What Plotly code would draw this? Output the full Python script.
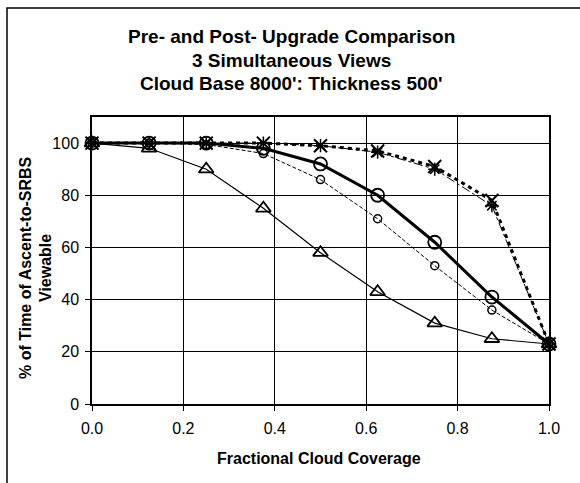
import plotly.graph_objects as go

coverage = [0.0, 0.125, 0.25, 0.375, 0.5, 0.625, 0.75, 0.875, 1.0]
triangle_vals = [100, 98, 90, 75, 58, 43, 31, 25, 23]
small_circle_vals = [100, 100, 99.5, 96, 86, 71, 53, 36, 23]
big_circle_vals = [100, 100, 100, 98, 92, 80, 62, 41, 23]
x_vals = [100, 100, 100, 100, 99, 97, 91, 78, 23]
star_vals = [100, 100, 100, 100, 99, 96.5, 90, 76, 23]

title_lines = ["Pre- and Post- Upgrade Comparison", "3 Simultaneous Views",
               "Cloud Base 8000': Thickness 500'"]
x_title = "Fractional Cloud Coverage"
y_title_lines = ["% of Time of Ascent-to-SRBS", "Viewable"]

W, H = 580, 483
L, R, T, B = 92, 549, 117, 404
pw, ph = R - L, B - T

def px(x):
    return (x - L) / pw

def py(y):
    return (B - y) / ph

fig = go.Figure()
fig.add_trace(go.Scatter(x=coverage, y=triangle_vals, mode="lines+markers",
                         line=dict(color="black", width=1.2),
                         marker=dict(symbol="triangle-up-open", size=13, color="black", line=dict(width=1.8)),
                         cliponaxis=False))
fig.add_trace(go.Scatter(x=coverage, y=small_circle_vals, mode="lines+markers",
                         line=dict(color="black", width=1, dash="4px,2px"),
                         marker=dict(symbol="circle-open", size=8, color="black", line=dict(width=1.5)),
                         cliponaxis=False))
fig.add_trace(go.Scatter(x=coverage, y=big_circle_vals, mode="lines+markers",
                         line=dict(color="black", width=3),
                         marker=dict(symbol="circle-open", size=13, color="black", line=dict(width=1.8)),
                         cliponaxis=False))
fig.add_trace(go.Scatter(x=coverage, y=star_vals, mode="lines+markers",
                         line=dict(color="black", width=1, dash="dashdot"),
                         marker=dict(symbol="asterisk-open", size=11, color="black", line=dict(width=1.5)),
                         cliponaxis=False))
fig.add_trace(go.Scatter(x=coverage, y=x_vals, mode="lines+markers",
                         line=dict(color="black", width=3, dash="4px,4px"),
                         marker=dict(symbol="x-thin-open", size=13, color="black", line=dict(width=2)),
                         cliponaxis=False))

annotations = []
for i, (t, yy) in enumerate(zip(title_lines, [36, 60, 83])):
    annotations.append(dict(text="<b>%s</b>" % t, x=px(291), y=py(yy), xref="paper", yref="paper",
                            showarrow=False, xanchor="center", yanchor="middle",
                            font=dict(family="Liberation Sans, Arial", size=19, color="black")))
annotations.append(dict(text="<b>%s</b>" % x_title, x=px(319), y=py(458), xref="paper", yref="paper",
                        showarrow=False, xanchor="center", yanchor="middle",
                        font=dict(family="Liberation Sans, Arial", size=16, color="black")))
for t, xx in zip(y_title_lines, [25, 45]):
    annotations.append(dict(text="<b>%s</b>" % t, x=px(xx), y=py(268), xref="paper", yref="paper",
                            showarrow=False, xanchor="center", yanchor="middle", textangle=-90,
                            font=dict(family="Liberation Sans, Arial", size=16, color="black")))

fig.update_layout(
    width=W, height=H,
    margin=dict(l=L, r=W - R, t=T, b=H - B),
    paper_bgcolor="white", plot_bgcolor="white",
    showlegend=False,
    font=dict(family="Liberation Sans, Arial", size=16, color="black"),
    annotations=annotations,
    shapes=[dict(type="rect", xref="paper", yref="paper", x0=px(7), x1=1.2, y0=-0.4, y1=py(8),
                 line=dict(color="black", width=1.5), layer="below")],
)
fig.update_xaxes(range=[0, 1], dtick=0.2, tick0=0, tickformat=".1f", ticks="outside", ticklen=5,
                 tickcolor="black", showline=True, linecolor="black", linewidth=1.5, mirror=True,
                 showgrid=True, gridcolor="black", gridwidth=1, zeroline=False,
                 tickfont=dict(size=16), ticklabelstandoff=4)
fig.update_yaxes(range=[0, 110], dtick=20, tick0=0, ticks="outside", ticklen=5,
                 tickcolor="black", showline=True, linecolor="black", linewidth=1.5, mirror=True,
                 showgrid=True, gridcolor="black", gridwidth=1, zeroline=False,
                 tickfont=dict(size=16), ticklabelstandoff=3)

fig.write_html("out.html")
